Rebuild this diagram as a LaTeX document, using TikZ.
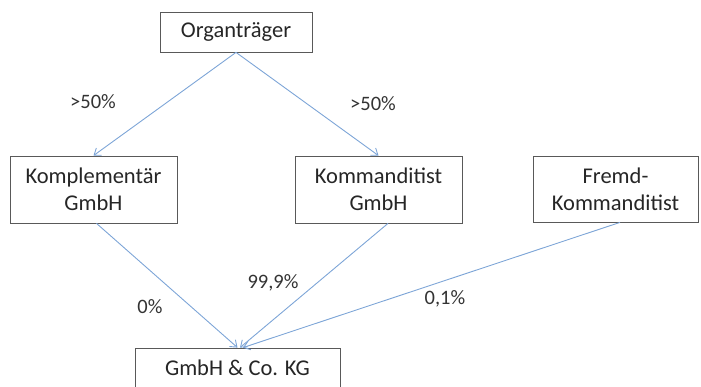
\documentclass[tikz,border=0pt]{standalone}
\usepackage{fontspec}
\setmainfont{Carlito}
\usetikzlibrary{arrows.meta}
\definecolor{linieblau}{RGB}{125,165,215}
\begin{document}
\begin{tikzpicture}[x=1pt,y=-1pt,
  firma/.style={draw=black!65,line width=0.8pt,align=center,inner sep=0pt,
    font=\fontsize{22.5}{27}\selectfont,text=black!85},
  anteil/.style={draw=linieblau,line width=0.9pt,-{Straight Barb[length=6pt,width=9pt]}},
  quote/.style={font=\fontsize{20.5}{24}\selectfont,text=black!80}]
\useasboundingbox (0,0) rectangle (701,387);
\clip (0,0) rectangle (701,387);
\node[firma,minimum width=152pt,minimum height=40pt] (ot) at (236,32) {Organträger};
\node[firma,minimum width=167pt,minimum height=67pt] (kp) at (93.5,189.5) {Komplementär\\GmbH};
\node[firma,minimum width=167pt,minimum height=67pt] (kd) at (378.5,189.5) {Kommanditist\\GmbH};
\node[firma,minimum width=165pt,minimum height=66pt] (fk) at (615.5,189) {Fremd-\\Kommanditist};
\node[firma,minimum width=205pt,minimum height=40pt] (kg) at (237.5,368) {GmbH \& Co. KG};
\draw[anteil] (ot.south) -- (kp.north);
\draw[anteil] (ot.south) -- (kd.north);
\draw[anteil] ([xshift=3pt]kp.south) -- (kg.north);
\draw[anteil] ([xshift=9.5pt]kd.south) -- ([xshift=2.5pt]kg.north);
\draw[anteil] ([xshift=4.5pt]fk.south) -- ([xshift=5.5pt]kg.north);
\node[quote] (q1) at (93,102) {>50\%};
\node[quote] (q2) at (373,104) {>50\%};
\node[quote] (q3) at (150,307) {0\%};
\node[quote] (q4) at (273,283) {99,9\%};
\node[quote] (q5) at (445,299) {0,1\%};
\end{tikzpicture}
\end{document}
